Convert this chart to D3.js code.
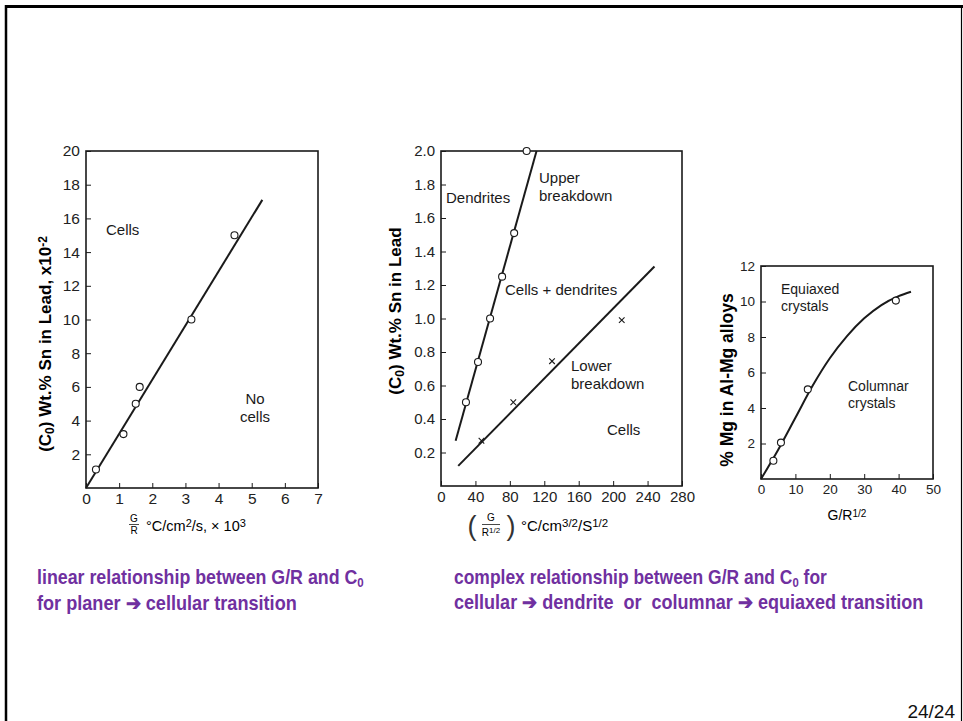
<!DOCTYPE html>
<html>
<head>
<meta charset="utf-8">
<script src="https://cdn.jsdelivr.net/npm/d3@7"></script>
<style>
	body { margin: 0; background: #fff; }
	svg { display: block; }
	text { font-family: "Liberation Sans", Arial, sans-serif; }
</style>
</head>
<body>
<svg id="slide" width="963" height="721"></svg>
<script>
// ---- data ----
// (a) planar -> cellular
const leftTicksX = [0, 1, 2, 3, 4, 5, 6, 7];
const leftTicksY = [2, 4, 6, 8, 10, 12, 14, 16, 18, 20];
const leftPointsX = [0.3, 1.13, 1.5, 1.62, 3.18, 4.48];
const leftPointsY = [1.1, 3.2, 5.0, 6.0, 10.0, 15.0];
const leftLineX = [0, 5.32];
const leftLineY = [0, 17.1];

// (b) cells / dendrites
const midTicksX = [0, 40, 80, 120, 160, 200, 240, 280];
const midTicksY = [0.2, 0.4, 0.6, 0.8, 1.0, 1.2, 1.4, 1.6, 1.8, 2.0];
const upperPointsX = [29, 43, 57, 71, 85, 99.5];
const upperPointsY = [0.5, 0.74, 1.0, 1.25, 1.51, 2.0];
const upperLineX = [17, 111];
const upperLineY = [0.27, 2.0];
const lowerCrossX = [47, 84, 129, 210];
const lowerCrossY = [0.27, 0.5, 0.745, 0.99];
const lowerLineX = [20, 248];
const lowerLineY = [0.12, 1.31];

// (c) Al-Mg columnar / equiaxed
const rightTicksX = [0, 10, 20, 30, 40, 50];
const rightTicksY = [2, 4, 6, 8, 10, 12];
const mgPointsX = [3.6, 5.8, 13.6, 39.2];
const mgPointsY = [1.03, 2.05, 5.05, 10.05];
const mgCurveX = [0, 5, 10, 15, 20, 25, 30, 35, 40, 43.6];
const mgCurveY = [0, 1.65, 3.45, 5.25, 6.8, 8.05, 9.05, 9.8, 10.3, 10.55];

const purple = '#7030a0';
const ink = '#1a1a1a';

const svg = d3.select('#slide');

// slide frame
svg.append('line').attr('x1', 5).attr('x2', 963).attr('y1', 6.5).attr('y2', 6.5).attr('stroke', '#000').attr('stroke-width', 3);
svg.append('line').attr('x1', 6).attr('x2', 6).attr('y1', 5).attr('y2', 721).attr('stroke', '#000').attr('stroke-width', 2.5);
svg.append('line').attr('x1', 961.5).attr('x2', 961.5).attr('y1', 7).attr('y2', 721).attr('stroke', '#000').attr('stroke-width', 1.2);

// text with sub / superscript parts: [string, 'sub' | 'sup' | undefined]
function richText(sel, parts, small) {
	parts.forEach(([s, kind]) => {
		const t = sel.append('tspan').text(s);
		if (kind == 'sub') t.attr('baseline-shift', '-25%').attr('font-size', small);
		if (kind == 'sup') t.attr('baseline-shift', '35%').attr('font-size', small);
	});
	return sel;
}

function drawPanel(p) {
	const x = d3.scaleLinear().domain(p.xDomain).range(p.xRange);
	const y = d3.scaleLinear().domain(p.yDomain).range(p.yRange);
	const g = svg.append('g');

	const xAxis = d3.axisBottom(x).tickValues(p.xTicks).tickSizeInner(-5).tickSizeOuter(0)
					.tickPadding(5).tickFormat(p.xFormat);
	const ax = g.append('g').attr('transform', 'translate(0,' + p.yRange[0] + ')').call(xAxis);
	const yAxis = d3.axisLeft(y).tickValues(p.yTicks).tickSizeInner(-5).tickSizeOuter(0)
					.tickPadding(6).tickFormat(p.yFormat);
	const ay = g.append('g').attr('transform', 'translate(' + p.xRange[0] + ',0)').call(yAxis);
	[ax, ay].forEach(a => {
		a.attr('font-family', null).attr('font-size', p.tickFont);
		a.select('.domain').remove();
		a.selectAll('.tick line').attr('stroke', ink).attr('stroke-width', 1);
		a.selectAll('.tick text').attr('fill', '#222');
	});

	// frame
	g.append('rect')
		.attr('x', p.xRange[0]).attr('y', p.yRange[1])
		.attr('width', p.xRange[1] - p.xRange[0]).attr('height', p.yRange[0] - p.yRange[1])
		.attr('fill', 'none').attr('stroke', ink).attr('stroke-width', 1.6);
	return { x, y, g };
}

function drawLine(panel, xs, ys, curve) {
	const gen = d3.line().x(d => panel.x(d[0])).y(d => panel.y(d[1]));
	if (curve) gen.curve(curve);
	panel.g.append('path').attr('d', gen(d3.zip(xs, ys)))
		.attr('fill', 'none').attr('stroke', ink).attr('stroke-width', 2);
}

function drawCircles(panel, xs, ys) {
	panel.g.selectAll(null).data(d3.zip(xs, ys)).enter().append('circle')
		.attr('cx', d => panel.x(d[0])).attr('cy', d => panel.y(d[1])).attr('r', 3.5)
		.attr('fill', '#fff').attr('stroke', ink).attr('stroke-width', 1.1);
}

function drawCrosses(panel, xs, ys) {
	const s = 2.8;
	panel.g.selectAll(null).data(d3.zip(xs, ys)).enter().append('path')
		.attr('d', d => {
			const cx = panel.x(d[0]), cy = panel.y(d[1]);
			return `M${cx - s},${cy - s}L${cx + s},${cy + s}M${cx - s},${cy + s}L${cx + s},${cy - s}`;
		})
		.attr('stroke', ink).attr('stroke-width', 1.1);
}

function label(panel, lines, x, y, size, lh) {
	const t = panel.g.append('text').attr('font-size', size).attr('fill', ink);
	lines.forEach((s, i) => t.append('tspan').attr('x', x).attr('y', y + i * lh).text(s));
	return t;
}

// ---- left panel ----
const left = drawPanel({
	xDomain: [0, 7], xRange: [86, 318], yDomain: [0, 20], yRange: [488, 151],
	xTicks: leftTicksX, yTicks: leftTicksY, tickFont: 15.5,
	xFormat: d3.format('d'), yFormat: d3.format('d')
});
drawLine(left, leftLineX, leftLineY);
drawCircles(left, leftPointsX, leftPointsY);
label(left, ['Cells'], 106, 235, 15, 18);
label(left, ['No', 'cells'], 255, 404, 15, 18).attr('text-anchor', 'middle');
richText(svg.append('text').attr('transform', 'translate(51,344) rotate(-90)')
		.attr('text-anchor', 'middle').attr('font-size', 17).attr('font-weight', 'bold'),
	[['(C'], ['0', 'sub'], [') Wt.% Sn in Lead, x10'], ['-2', 'sup']], 12);
// x label: G/R fraction then units
svg.append('text').attr('x', 134).attr('y', 522).attr('font-size', 10).attr('text-anchor', 'middle').text('G');
svg.append('line').attr('x1', 129).attr('x2', 139).attr('y1', 524.5).attr('y2', 524.5).attr('stroke', ink).attr('stroke-width', 0.8);
svg.append('text').attr('x', 134).attr('y', 534).attr('font-size', 10).attr('text-anchor', 'middle').text('R');
richText(svg.append('text').attr('x', 146).attr('y', 531).attr('font-size', 14.5),
	[['°C/cm'], ['2', 'sup'], ['/s, × 10'], ['3', 'sup']], 11);

// ---- middle panel ----
const mid = drawPanel({
	xDomain: [0, 280], xRange: [441, 682], yDomain: [0, 2.0], yRange: [486, 151],
	xTicks: midTicksX, yTicks: midTicksY, tickFont: 15,
	xFormat: d3.format('d'), yFormat: d3.format('.1f')
});
drawLine(mid, upperLineX, upperLineY);
drawLine(mid, lowerLineX, lowerLineY);
drawCircles(mid, upperPointsX, upperPointsY);
drawCrosses(mid, lowerCrossX, lowerCrossY);
label(mid, ['Dendrites'], 446, 203, 15, 18);
label(mid, ['Upper', 'breakdown'], 539, 183, 15, 18);
label(mid, ['Cells + dendrites'], 505, 295, 15, 18);
label(mid, ['Lower', 'breakdown'], 571, 371, 15, 18);
label(mid, ['Cells'], 607, 435, 15, 18);
richText(svg.append('text').attr('transform', 'translate(401,311) rotate(-90)')
		.attr('text-anchor', 'middle').attr('font-size', 17).attr('font-weight', 'bold'),
	[['(C'], ['0', 'sub'], [') Wt.% Sn in Lead']], 12);
svg.append('text').attr('x', 472).attr('y', 535).attr('font-size', 27).attr('fill', '#333').attr('text-anchor', 'middle').text('(');
svg.append('text').attr('x', 491).attr('y', 521).attr('font-size', 10).attr('text-anchor', 'middle').text('G');
svg.append('line').attr('x1', 482).attr('x2', 500).attr('y1', 524.5).attr('y2', 524.5).attr('stroke', ink).attr('stroke-width', 0.8);
richText(svg.append('text').attr('x', 491).attr('y', 536).attr('font-size', 10).attr('text-anchor', 'middle'),
	[['R'], ['1/2', 'sup']], 8);
svg.append('text').attr('x', 511).attr('y', 535).attr('font-size', 27).attr('fill', '#333').attr('text-anchor', 'middle').text(')');
richText(svg.append('text').attr('x', 521).attr('y', 531).attr('font-size', 15),
	[['°C/cm'], ['3/2', 'sup'], ['/S'], ['1/2', 'sup']], 11.5);

// ---- right panel ----
const right = drawPanel({
	xDomain: [0, 50], xRange: [761, 933], yDomain: [0, 12], yRange: [479, 266],
	xTicks: rightTicksX, yTicks: rightTicksY, tickFont: 13.5,
	xFormat: d3.format('d'), yFormat: d3.format('d')
});
drawLine(right, mgCurveX, mgCurveY, d3.curveMonotoneX);
drawCircles(right, mgPointsX, mgPointsY);
label(right, ['Equiaxed', 'crystals'], 781, 294, 14, 17);
label(right, ['Columnar', 'crystals'], 848, 391, 14, 17);
svg.append('text').attr('transform', 'translate(733,380) rotate(-90)')
	.attr('text-anchor', 'middle').attr('font-size', 17.5).attr('font-weight', 'bold')
	.text('% Mg in Al-Mg alloys');
richText(svg.append('text').attr('x', 847).attr('y', 520).attr('font-size', 14).attr('text-anchor', 'middle'),
	[['G/R'], ['1/2', 'sup']], 10);

// ---- captions (condensed bold: squeeze horizontally to the width in the picture) ----
function caption(x, y, len, parts) {
	const t = svg.append('text').attr('x', 0).attr('y', 0)
		.attr('font-size', 20).attr('font-weight', 'bold').attr('fill', purple)
		.style('white-space', 'pre');
	richText(t, parts, 13);
	const w = t.node().getComputedTextLength();
	t.attr('transform', 'translate(' + x + ',' + y + ') scale(' + (len / w) + ',1)');
}
caption(37, 584, 327, [['linear relationship between G/R and C'], ['0', 'sub']]);
caption(37, 610, 260, [['for planer ➔ cellular transition']]);
caption(454, 584, 373, [['complex relationship between G/R and C'], ['0', 'sub'], [' for']]);
caption(454, 609, 470, [['cellular ➔ dendrite  or  columnar ➔ equiaxed transition']]);

svg.append('text').attr('x', 955).attr('y', 718).attr('text-anchor', 'end')
	.attr('font-size', 19).attr('fill', '#111').text('24/24');
</script>
</body>
</html>
